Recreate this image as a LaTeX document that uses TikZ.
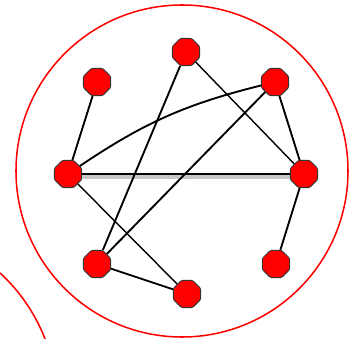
\documentclass[tikz,border=0pt]{standalone}
\usepackage{xcolor}
\usepackage{tikz}
\usetikzlibrary{shapes.geometric, positioning}

\begin{document}
\begin{tikzpicture}[x=0.03cm, y=-0.03cm]
    % Styles
    \tikzstyle{vertex} = [regular polygon, regular polygon sides=8, rounded corners=1pt, fill=red, draw=black!80, line width=0.8pt, minimum size=0.88cm, inner sep=0pt]
    \tikzstyle{edge} = [draw=black, line width=1.6pt]
    \tikzstyle{ring} = [draw=red, line width=1.3pt]

    \useasboundingbox (0,0) rectangle (351,339);

    % Circles
    \node[ring, circle, minimum size=9.96cm] (outer) at (182,171) {};
    \draw[ring] (0,273) arc[start angle=-47.5, end angle=-15, radius=175];

    % Vertices
    \node[vertex] (top) at (186,52) {};
    \node[vertex] (ul) at (97,82) {};
    \node[vertex] (ur) at (275,82) {};
    \node[vertex] (left) at (68,174) {};
    \node[vertex] (right) at (304,174) {};
    \node[vertex] (ll) at (97,264) {};
    \node[vertex] (lr) at (276,264) {};
    \node[vertex] (bottom) at (187,294) {};

    % Edges
    \draw[edge, preaction={draw=black!22, line width=4pt, transform canvas={yshift=-2.5pt}}] (left) -- (right);
    \draw[edge] (ul) -- (left);
    \draw[edge] (left) to[bend left=10] (ur);
    \draw[edge] (top) -- (ll);
    \draw[edge, line width=1.2pt] (top) -- (right);
    \draw[edge] (ur) -- (right);
    \draw[edge] (ur) -- (ll);
    \draw[edge, line width=1.2pt] (left) -- (bottom);
    \draw[edge] (ll) -- (bottom);
    \draw[edge] (right) -- (lr);
\end{tikzpicture}
\end{document}
